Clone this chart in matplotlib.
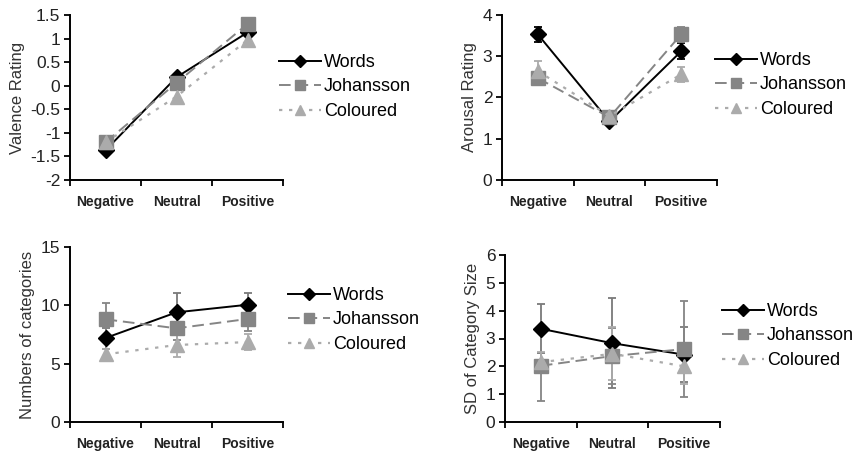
import matplotlib

matplotlib.use("Agg")
import matplotlib.pyplot as plt
from matplotlib.lines import Line2D

plt.rcParams["font.family"] = ["Liberation Sans", "DejaVu Sans"]

conditions = ["Negative", "Neutral", "Positive"]
series = ["Words", "Johansson", "Coloured"]

# valence rating (no visible error bars)
valence = {
    "Words": [-1.37, 0.18, 1.13],
    "Johansson": [-1.2, 0.06, 1.31],
    "Coloured": [-1.2, -0.23, 0.97],
}

arousal = {
    "Words": [3.53, 1.42, 3.12],
    "Johansson": [2.47, 1.52, 3.53],
    "Coloured": [2.64, 1.55, 2.56],
}
arousal_err = {
    "Words": [0.18, 0.08, 0.19],
    "Johansson": [0.1, 0.1, 0.18],
    "Coloured": [0.25, 0.12, 0.19],
}

n_categories = {
    "Words": [7.2, 9.4, 10.05],
    "Johansson": [8.8, 8.03, 8.83],
    "Coloured": [5.8, 6.6, 6.85],
}
n_categories_err = {
    "Words": [0.9, 1.63, 0.97],
    "Johansson": [1.37, 1.0, 1.0],
    "Coloured": [0.5, 1.06, 0.72],
}

sd_size = {
    "Words": [3.35, 2.83, 2.42],
    "Johansson": [2.02, 2.37, 2.62],
    "Coloured": [2.15, 2.45, 2.0],
}
sd_size_err = {
    "Words": [0.88, 1.62, 1.0],
    "Johansson": [1.27, 1.0, 1.73],
    "Coloured": [0.35, 0.95, 0.65],
}

styles = {
    "Words": dict(color="black", marker="D", ms=8, ls="-", lw=1.4),
    "Johansson": dict(color="#858585", marker="s", ms=9.5, ls=(0, (6, 3)), lw=1.4),
    "Coloured": dict(color="#ababab", marker="^", ms=9.5, ls=(0, (1.5, 3)), lw=1.6),
}

fig = plt.figure(figsize=(8.59, 4.55), dpi=100)

panels = [
    # data, errors, ylabel, ylim, ystep, axes rect, legend anchor (fig px), words err colour
    (valence, None, "Valence Rating", (-2, 1.5), 0.5,
     [70 / 859, 1 - 180 / 455, 213 / 859, 165 / 455], (279, 87), "black"),
    (arousal, arousal_err, "Arousal Rating", (0, 4), 1,
     [502 / 859, 1 - 180 / 455, 215 / 859, 165 / 455], (715, 85), "black"),
    (n_categories, n_categories_err, "Numbers of categories", (0, 15), 5,
     [70 / 859, 1 - 422 / 455, 213 / 859, 175 / 455], (288, 320), "#7a7a7a"),
    (sd_size, sd_size_err, "SD of Category Size", (0, 6), 1,
     [505 / 859, 1 - 422 / 455, 215 / 859, 167 / 455], (722, 336), "#7a7a7a"),
]

x = list(range(len(conditions)))

for data, errs, ylabel, ylim, ystep, rect, leg_xy, words_ecol in panels:
    ax = fig.add_axes(rect)
    for name in series:
        st = styles[name]
        yerr = errs[name] if errs is not None else None
        ecol = words_ecol if name == "Words" else st["color"]
        ax.errorbar(x, data[name], yerr=yerr, color=st["color"],
                    marker=st["marker"], ms=st["ms"], ls=st["ls"], lw=st["lw"],
                    elinewidth=1.3, capsize=3, capthick=1.3, ecolor=ecol)
    ax.set_xlim(-0.5, 2.5)
    ax.set_ylim(*ylim)
    ticks = []
    v = ylim[0]
    while v <= ylim[1] + 1e-9:
        ticks.append(round(v, 2))
        v += ystep
    ax.set_yticks(ticks)
    ax.set_yticklabels([f"{t:g}" for t in ticks], fontsize=12.5, color="#222222")
    ax.set_xticks([-0.5, 0.5, 1.5, 2.5])
    ax.set_xticklabels([])
    ax.set_xticks(x, minor=True)
    ax.set_xticklabels(conditions, minor=True, fontsize=10, fontweight="bold",
                       color="#222222")
    ax.tick_params(axis="x", which="minor", length=0, pad=11)
    ax.tick_params(axis="x", which="major", length=4, width=1.3, direction="out")
    ax.tick_params(axis="y", length=4, width=1.3, direction="out", pad=3)
    for side in ("top", "right"):
        ax.spines[side].set_visible(False)
    for side in ("left", "bottom"):
        ax.spines[side].set_linewidth(1.4)
    ax.set_ylabel(ylabel, fontsize=12, color="#333333", labelpad=4)

    handles = [Line2D([], [], color=styles[n]["color"], marker=styles[n]["marker"],
                      ms=styles[n]["ms"] * 0.72, ls=styles[n]["ls"],
                      lw=styles[n]["lw"]) for n in series]
    ax.legend(handles, series, loc="center left", frameon=False,
              bbox_to_anchor=(leg_xy[0] / 859, 1 - leg_xy[1] / 455),
              bbox_transform=fig.transFigure, fontsize=13,
              handlelength=2.3, handletextpad=0.2, borderpad=0,
              borderaxespad=0, labelspacing=0.42)

fig.savefig("out.png", dpi=100)
